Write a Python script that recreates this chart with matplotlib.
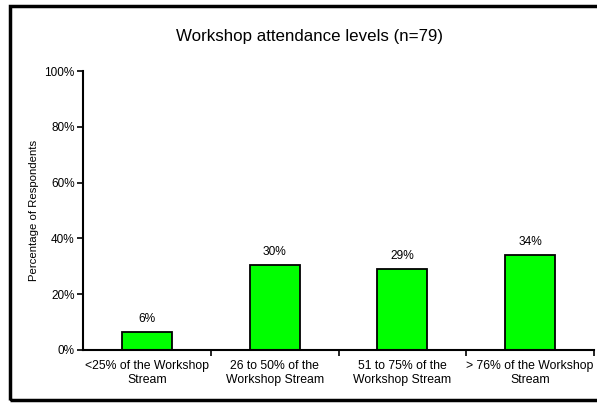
import matplotlib
matplotlib.use("Agg")
import matplotlib.pyplot as plt
from matplotlib.patches import Rectangle

# Data (n=79 respondents)
categories = [
    "<25% of the Workshop\nStream",
    "26 to 50% of the\nWorkshop Stream",
    "51 to 75% of the\nWorkshop Stream",
    "> 76% of the Workshop\nStream",
]
values = [6.3, 30.4, 29.1, 34.2]
value_labels = ["6%", "30%", "29%", "34%"]
y_ticks = [0, 20, 40, 60, 80, 100]

plt.rcParams["font.family"] = ["Liberation Sans", "DejaVu Sans"]

fig = plt.figure(figsize=(5.97, 4.03), dpi=100)
ax = fig.add_axes([83 / 597, 1 - 350 / 403, (594 - 83) / 597, (350 - 71) / 403])

x = list(range(len(categories)))
ax.bar(x, values, width=0.39, color="#00ff00", edgecolor="black", linewidth=1.3)

for xi, v, lab in zip(x, values, value_labels):
    ax.annotate(lab, (xi, v), xytext=(0, 5), textcoords="offset points",
                ha="center", va="bottom", fontsize=8.6)

ax.set_xlim(-0.5, len(categories) - 0.5)
ax.set_ylim(0, 100)
ax.set_yticks(y_ticks)
ax.set_yticklabels([f"{t}%" for t in y_ticks], fontsize=8.5)
ax.set_xticks(x)
ax.set_xticklabels(categories, fontsize=8.8, linespacing=1.2)
ax.set_xticks([i + 0.5 for i in x], minor=True)
ax.tick_params(axis="x", which="major", length=0, pad=7)
ax.tick_params(axis="x", which="minor", length=4, width=1.2, direction="out")
ax.tick_params(axis="y", length=4, width=1.2, direction="out", pad=2)

for s in ["top", "right"]:
    ax.spines[s].set_visible(False)
for s in ["left", "bottom"]:
    ax.spines[s].set_linewidth(1.5)

ax.set_ylabel("Percentage of Respondents", fontsize=8.2, labelpad=4)
fig.text(309 / 597, 1 - 37 / 403, "Workshop attendance levels (n=79)",
         ha="center", va="center", fontsize=12.2)

# chart area frame
fig.patches.append(Rectangle((10 / 597, 3 / 403), 1.0, (397 - 3) / 403,
                             transform=fig.transFigure, fill=False,
                             edgecolor="black", linewidth=2.5, clip_on=False))

fig.savefig("out.png", dpi=100, facecolor="white")
